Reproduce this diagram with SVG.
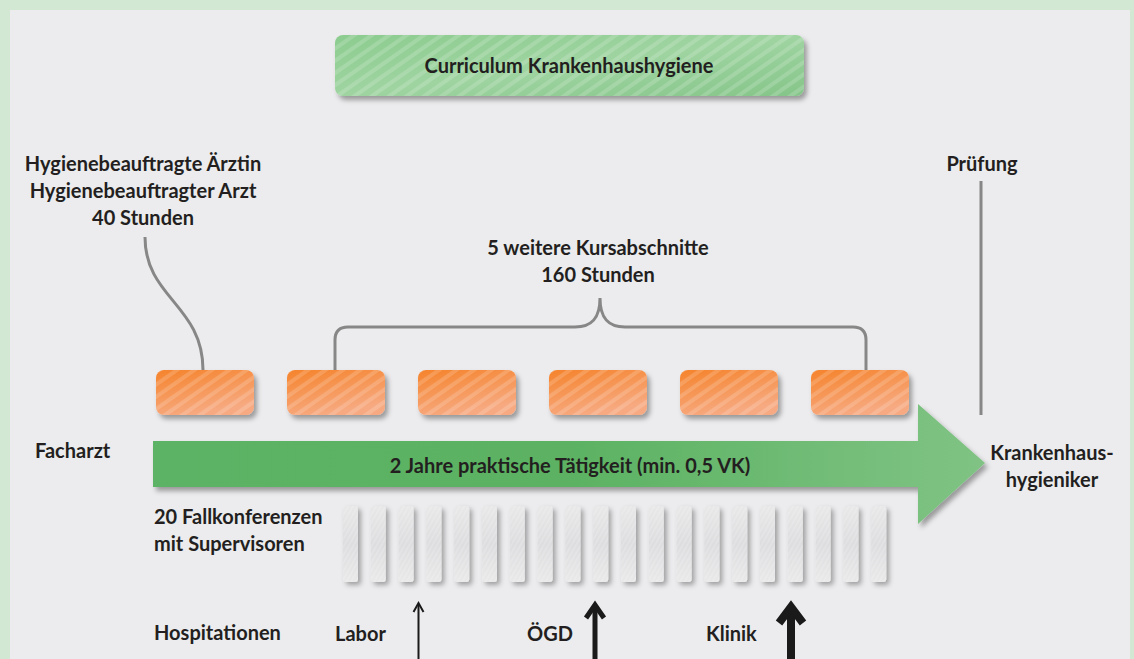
<svg xmlns="http://www.w3.org/2000/svg" width="1134" height="659" viewBox="0 0 1134 659">
<defs>
  <style>
    .t{font-family:"Lato","Liberation Sans",sans-serif;font-weight:bold;font-size:20px;fill:#231f20}
    .c{text-anchor:middle}
    .con{fill:none;stroke:#878787;stroke-width:3;stroke-linecap:butt}
    .arr{fill:none;stroke:#1a1a1a;stroke-linejoin:miter;stroke-miterlimit:10}
  </style>
  <filter id="sh" x="-20%" y="-20%" width="150%" height="160%">
    <feDropShadow dx="3" dy="4" stdDeviation="2.5" flood-color="#000" flood-opacity="0.35"/>
  </filter>
  <filter id="shb" x="-50%" y="-20%" width="200%" height="150%">
    <feDropShadow dx="3" dy="3" stdDeviation="2.5" flood-color="#000" flood-opacity="0.32"/>
  </filter>
  <pattern id="stripes" width="10" height="10" patternUnits="userSpaceOnUse" patternTransform="rotate(-35)">
    <rect x="0" y="0" width="10" height="4" fill="#ffffff" fill-opacity="0.16"/>
  </pattern>
  <pattern id="fine" width="4" height="4" patternUnits="userSpaceOnUse" patternTransform="rotate(-60)">
    <rect x="0" y="0" width="4" height="1.5" fill="#ffffff" fill-opacity="0.18"/>
  </pattern>
  <linearGradient id="gTitle" x1="0" y1="0" x2="1" y2="1">
    <stop offset="0" stop-color="#8ccc8f"/>
    <stop offset="0.5" stop-color="#9fd4a1"/>
    <stop offset="1" stop-color="#85c589"/>
  </linearGradient>
  <linearGradient id="gOr" x1="0" y1="0" x2="0.4" y2="1">
    <stop offset="0" stop-color="#f5832b"/>
    <stop offset="1" stop-color="#f7aa82"/>
  </linearGradient>
  <linearGradient id="gArrow" x1="153" y1="0" x2="985" y2="0" gradientUnits="userSpaceOnUse">
    <stop offset="0" stop-color="#5db365"/>
    <stop offset="0.5" stop-color="#5bb262"/>
    <stop offset="1" stop-color="#80c384"/>
  </linearGradient>
  <linearGradient id="gBar" x1="0" y1="0" x2="0" y2="1">
    <stop offset="0" stop-color="#e8e8e9"/>
    <stop offset="0.5" stop-color="#dddddf"/>
    <stop offset="1" stop-color="#e9e9ea"/>
  </linearGradient>
  <rect id="ob" width="98" height="45" rx="8"/>
  <rect id="bar" width="15" height="76" rx="3"/>
</defs>

<rect x="0" y="0" width="1134" height="659" fill="#d3e8d3"/>
<rect x="10" y="10" width="1120" height="649" fill="#ececee"/>

<g id="title">
  <g filter="url(#sh)">
    <rect x="335" y="35" width="469" height="61" rx="8" fill="url(#gTitle)"/>
  </g>
  <rect x="335" y="35" width="469" height="61" rx="8" fill="url(#stripes)"/>
  <text class="t c" x="569" y="73">Curriculum Krankenhaushygiene</text>
</g>

<g id="connectors">
  <path class="con" d="M145,237 C145,298 203,305 203,370"/>
  <path class="con" d="M335,370 V340 Q335,327 348,327 H575 C592,327 600,318 600,298 C600,318 608,327 625,327 H853 Q866,327 866,340 V370"/>
  <line class="con" x1="981" y1="181" x2="981" y2="415"/>
</g>

<g id="label-hygiene">
  <text class="t c" x="143" y="171">Hygienebeauftragte Ärztin</text>
  <text class="t c" x="143" y="198">Hygienebeauftragter Arzt</text>
  <text class="t c" x="143" y="225">40 Stunden</text>
</g>
<g id="label-pruefung">
  <text class="t c" x="982" y="171">Prüfung</text>
</g>
<g id="label-kurs">
  <text class="t c" x="598" y="255">5 weitere Kursabschnitte</text>
  <text class="t c" x="598" y="282">160 Stunden</text>
</g>

<g id="kurse">
  <g filter="url(#sh)" fill="url(#gOr)">
    <use href="#ob" x="156" y="370"/>
    <use href="#ob" x="287" y="370"/>
    <use href="#ob" x="418" y="370"/>
    <use href="#ob" x="549" y="370"/>
    <use href="#ob" x="680" y="370"/>
    <use href="#ob" x="811" y="370"/>
  </g>
  <g fill="url(#stripes)">
    <use href="#ob" x="156" y="370"/>
    <use href="#ob" x="287" y="370"/>
    <use href="#ob" x="418" y="370"/>
    <use href="#ob" x="549" y="370"/>
    <use href="#ob" x="680" y="370"/>
    <use href="#ob" x="811" y="370"/>
  </g>
</g>

<g id="arrow-main">
  <g filter="url(#sh)">
    <path d="M153,441 H918 V404 L985,463 L918,524 V487 H153 Z" fill="url(#gArrow)"/>
  </g>
  <text class="t c" x="570" y="473">2 Jahre praktische Tätigkeit (min. 0,5 VK)</text>
</g>

<g id="label-facharzt">
  <text class="t" x="35" y="458">Facharzt</text>
</g>
<g id="label-kh">
  <text class="t c" x="1052" y="460">Krankenhaus-</text>
  <text class="t c" x="1052" y="487">hygieniker</text>
</g>

<g id="fallkonferenzen">
  <text class="t" x="154" y="524">20 Fallkonferenzen</text>
  <text class="t" x="154" y="551">mit Supervisoren</text>
  <g filter="url(#shb)" fill="url(#gBar)">
    <use href="#bar" x="343" y="506"/>
    <use href="#bar" x="370.8" y="506"/>
    <use href="#bar" x="398.6" y="506"/>
    <use href="#bar" x="426.4" y="506"/>
    <use href="#bar" x="454.2" y="506"/>
    <use href="#bar" x="482" y="506"/>
    <use href="#bar" x="509.8" y="506"/>
    <use href="#bar" x="537.6" y="506"/>
    <use href="#bar" x="565.4" y="506"/>
    <use href="#bar" x="593.2" y="506"/>
    <use href="#bar" x="621" y="506"/>
    <use href="#bar" x="648.8" y="506"/>
    <use href="#bar" x="676.6" y="506"/>
    <use href="#bar" x="704.4" y="506"/>
    <use href="#bar" x="732.2" y="506"/>
    <use href="#bar" x="760" y="506"/>
    <use href="#bar" x="787.8" y="506"/>
    <use href="#bar" x="815.6" y="506"/>
    <use href="#bar" x="843.4" y="506"/>
    <use href="#bar" x="871.2" y="506"/>
  </g>
  <g fill="url(#fine)">
    <use href="#bar" x="343" y="506"/>
    <use href="#bar" x="370.8" y="506"/>
    <use href="#bar" x="398.6" y="506"/>
    <use href="#bar" x="426.4" y="506"/>
    <use href="#bar" x="454.2" y="506"/>
    <use href="#bar" x="482" y="506"/>
    <use href="#bar" x="509.8" y="506"/>
    <use href="#bar" x="537.6" y="506"/>
    <use href="#bar" x="565.4" y="506"/>
    <use href="#bar" x="593.2" y="506"/>
    <use href="#bar" x="621" y="506"/>
    <use href="#bar" x="648.8" y="506"/>
    <use href="#bar" x="676.6" y="506"/>
    <use href="#bar" x="704.4" y="506"/>
    <use href="#bar" x="732.2" y="506"/>
    <use href="#bar" x="760" y="506"/>
    <use href="#bar" x="787.8" y="506"/>
    <use href="#bar" x="815.6" y="506"/>
    <use href="#bar" x="843.4" y="506"/>
    <use href="#bar" x="871.2" y="506"/>
  </g>
</g>

<g id="hospitationen">
  <text class="t" x="154" y="640">Hospitationen</text>
  <text class="t" x="335" y="641">Labor</text>
  <text class="t" x="527" y="641">ÖGD</text>
  <text class="t" x="706" y="641">Klinik</text>
  <g class="arr">
    <line x1="418.5" y1="604" x2="418.5" y2="659" stroke-width="2"/>
    <polyline points="413.5,612 418.5,603 423.5,612" stroke-width="2"/>
    <line x1="595" y1="607" x2="595" y2="659" stroke-width="5"/>
    <polyline points="586,618 595,605 604,618" stroke-width="5"/>
    <line x1="791" y1="610" x2="791" y2="659" stroke-width="8"/>
    <polyline points="779,623 791,607 803,623" stroke-width="8"/>
  </g>
</g>
</svg>
